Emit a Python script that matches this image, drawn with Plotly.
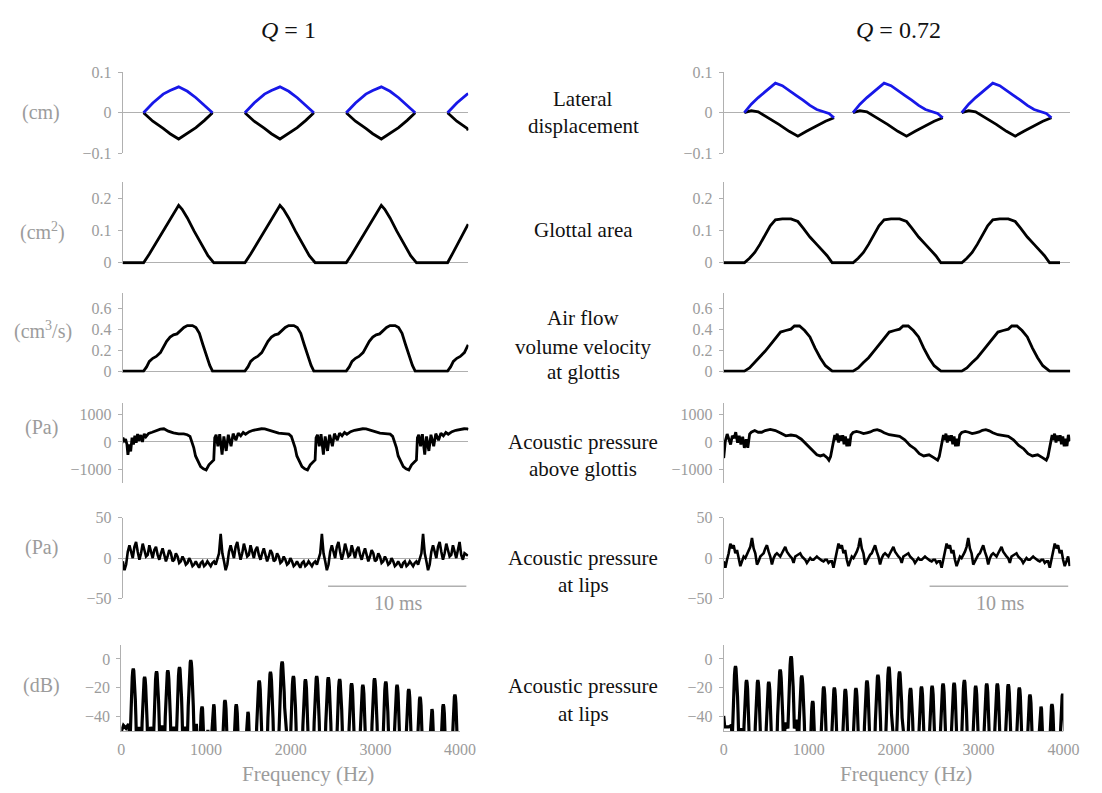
import plotly.graph_objects as go

FONT = "Liberation Serif, Times New Roman, serif"
GREY = "#9c9c9c"
AXIS_GREY = "#b0b0b0"
INK = "#111111"
BLUE = "#1818e8"
W, H = 1102, 793

# ---------------------------------------------------------------- data
# time in ms, two columns: Q = 1 (left) and Q = 0.72 (right)

# lateral displacement of the vocal folds (cm)
lat1_t = [1.50, 2.17, 2.92, 3.42, 4.04, 4.67, 5.29, 5.91, 6.49, None,
          8.83, 9.50, 10.25, 10.75, 11.37, 12.00, 12.62, 13.24, 13.82, None,
          16.16, 16.83, 17.58, 18.08, 18.70, 19.33, 19.95, 20.57, 21.15, None,
          23.49, 24.16, 24.91, 24.98]
lat1_upper = [0, 0.024, 0.046, 0.055, 0.064, 0.053, 0.037, 0.019, 0, None,
              0, 0.024, 0.046, 0.055, 0.064, 0.053, 0.037, 0.019, 0, None,
              0, 0.024, 0.046, 0.055, 0.064, 0.053, 0.037, 0.019, 0, None,
              0, 0.024, 0.046, 0.047]
lat1_lower = [0, -0.021, -0.039, -0.052, -0.065, -0.050, -0.037, -0.019, 0, None,
              0, -0.021, -0.039, -0.052, -0.065, -0.050, -0.037, -0.019, 0, None,
              0, -0.021, -0.039, -0.052, -0.065, -0.050, -0.037, -0.019, 0, None,
              0, -0.021, -0.039, -0.044]

lat2_t_upper = [1.49, 1.99, 2.49, 2.98, 3.73, 4.23, 4.72, 5.22, 5.72, 6.22, 6.71, 7.21, 7.59, 7.96, None,
                9.33, 9.83, 10.33, 10.82, 11.57, 12.07, 12.56, 13.06, 13.56, 14.06, 14.55, 15.05, 15.43, 15.80, None,
                17.17, 17.67, 18.17, 18.66, 19.41, 19.91, 20.40, 20.90, 21.40, 21.90, 22.39, 22.89, 23.27, 23.64]
lat2_upper = [0, 0.021, 0.0375, 0.052, 0.073, 0.067, 0.054, 0.043, 0.031, 0.018, 0.008, 0.002, -0.002, -0.0125, None,
              0, 0.021, 0.0375, 0.052, 0.073, 0.067, 0.054, 0.043, 0.031, 0.018, 0.008, 0.002, -0.002, -0.0125, None,
              0, 0.021, 0.0375, 0.052, 0.073, 0.067, 0.054, 0.043, 0.031, 0.018, 0.008, 0.002, -0.002, -0.0125]
lat2_t_lower = [1.49, 1.99, 2.49, 3.23, 3.98, 4.72, 5.35, 5.97, 6.71, 7.34, 7.96, None,
                9.33, 9.83, 10.33, 11.07, 11.82, 12.56, 13.19, 13.81, 14.55, 15.18, 15.80, None,
                17.17, 17.67, 18.17, 18.91, 19.66, 20.40, 21.03, 21.65, 22.39, 23.02, 23.64]
lat2_lower = [0, 0.005, 0.002, -0.0125, -0.029, -0.046, -0.058, -0.046, -0.032, -0.021, -0.0125, None,
              0, 0.005, 0.002, -0.0125, -0.029, -0.046, -0.058, -0.046, -0.032, -0.021, -0.0125, None,
              0, 0.005, 0.002, -0.0125, -0.029, -0.046, -0.058, -0.046, -0.032, -0.021, -0.0125]

# glottal area (cm^2)
area1_t = [0, 1.50, 1.92, 2.42, 2.92, 3.42, 3.79, 4.04, 4.29, 4.67, 5.16, 5.66, 6.16, 6.59,
           8.83, 9.25, 9.75, 10.25, 10.75, 11.12, 11.37, 11.62, 12.00, 12.49, 12.99, 13.49, 13.92,
           16.16, 16.58, 17.08, 17.58, 18.08, 18.45, 18.70, 18.95, 19.33, 19.82, 20.32, 20.82, 21.25,
           23.49, 23.91, 24.41, 24.98]
area1 = [0, 0, 0.027, 0.063, 0.098, 0.134, 0.162, 0.178, 0.166, 0.139, 0.098, 0.058, 0.022, 0,
         0, 0.027, 0.063, 0.098, 0.134, 0.162, 0.178, 0.166, 0.139, 0.098, 0.058, 0.022, 0,
         0, 0.027, 0.063, 0.098, 0.134, 0.162, 0.178, 0.166, 0.139, 0.098, 0.058, 0.022, 0,
         0, 0.033, 0.075, 0.12]

area2_t = [0, 1.49, 1.86, 2.24, 2.61, 2.98, 3.36, 3.73, 4.23, 4.85, 5.35, 5.72, 6.22, 6.71, 7.09, 7.46, 7.83,
           9.33, 9.70, 10.08, 10.45, 10.82, 11.20, 11.57, 12.07, 12.69, 13.19, 13.56, 14.06, 14.55, 14.93, 15.30, 15.67,
           17.17, 17.54, 17.92, 18.29, 18.66, 19.04, 19.41, 19.91, 20.53, 21.03, 21.40, 21.90, 22.39, 22.77, 23.14, 23.51,
           24.26]
area2 = [0, 0, 0.014, 0.032, 0.057, 0.088, 0.115, 0.133, 0.136, 0.136, 0.128, 0.108, 0.080, 0.057, 0.040, 0.022, 0,
         0, 0.014, 0.032, 0.057, 0.088, 0.115, 0.133, 0.136, 0.136, 0.128, 0.108, 0.080, 0.057, 0.040, 0.022, 0,
         0, 0.014, 0.032, 0.057, 0.088, 0.115, 0.133, 0.136, 0.136, 0.128, 0.108, 0.080, 0.057, 0.040, 0.022, 0,
         0]

# air flow volume velocity at the glottis (cm^3/s)
flow1_t = [0, 1.50, 1.72, 1.92, 2.17, 2.42, 2.72, 2.92, 3.17, 3.42, 3.67, 3.92, 4.17, 4.42, 4.67, 5.04, 5.29, 5.54, 5.79, 6.04, 6.29, 6.49,
           8.83, 9.05, 9.25, 9.50, 9.75, 10.05, 10.25, 10.50, 10.75, 11.00, 11.25, 11.50, 11.75, 12.00, 12.37, 12.62, 12.87, 13.12, 13.37, 13.62, 13.82,
           16.16, 16.38, 16.58, 16.83, 17.08, 17.38, 17.58, 17.83, 18.08, 18.33, 18.58, 18.83, 19.08, 19.33, 19.70, 19.95, 20.20, 20.45, 20.70, 20.95, 21.15,
           23.49, 23.71, 23.91, 24.16, 24.41, 24.71, 24.91, 24.98]
flow1 = [0, 0, 0.04, 0.092, 0.122, 0.14, 0.177, 0.223, 0.284, 0.324, 0.346, 0.355, 0.39, 0.416, 0.434, 0.434, 0.416, 0.361, 0.254, 0.147, 0.055, 0,
         0, 0.04, 0.092, 0.122, 0.14, 0.177, 0.223, 0.284, 0.324, 0.346, 0.355, 0.39, 0.416, 0.434, 0.434, 0.416, 0.361, 0.254, 0.147, 0.055, 0,
         0, 0.04, 0.092, 0.122, 0.14, 0.177, 0.223, 0.284, 0.324, 0.346, 0.355, 0.39, 0.416, 0.434, 0.434, 0.416, 0.361, 0.254, 0.147, 0.055, 0,
         0, 0.04, 0.092, 0.122, 0.14, 0.177, 0.223, 0.25]

flow2_t = [0, 1.49, 1.86, 2.24, 2.61, 2.98, 3.36, 3.73, 4.10, 4.48, 4.85, 5.10, 5.47, 5.84, 6.22, 6.59, 6.96, 7.34, 7.83,
           9.33, 9.70, 10.08, 10.45, 10.82, 11.20, 11.57, 11.94, 12.32, 12.69, 12.94, 13.31, 13.68, 14.06, 14.43, 14.80, 15.18, 15.67,
           17.17, 17.54, 17.92, 18.29, 18.66, 19.04, 19.41, 19.78, 20.16, 20.53, 20.78, 21.15, 21.52, 21.90, 22.27, 22.64, 23.02, 23.51,
           25.0]
flow2 = [0, 0, 0.03, 0.082, 0.128, 0.189, 0.25, 0.311, 0.372, 0.387, 0.40, 0.43, 0.43, 0.387, 0.326, 0.22, 0.128, 0.052, 0,
         0, 0.03, 0.082, 0.128, 0.189, 0.25, 0.311, 0.372, 0.387, 0.40, 0.43, 0.43, 0.387, 0.326, 0.22, 0.128, 0.052, 0,
         0, 0.03, 0.082, 0.128, 0.189, 0.25, 0.311, 0.372, 0.387, 0.40, 0.43, 0.43, 0.387, 0.326, 0.22, 0.128, 0.052, 0,
         0]

# acoustic pressure above the glottis (Pa), Q = 1: opening stretch, then three periods
supra1_t_open = [0, 0.10, 0.20, 0.30, 0.37, 0.47, 0.57, 0.67, 0.77, 0.87, 0.97, 1.07, 1.17, 1.30, 1.42, 1.55, 1.67,
                 1.87, 2.12, 2.42, 2.72, 2.97, 3.29, 3.66, 4.04, 4.41, 4.66, 4.86, 5.01, 5.13, 5.26, 5.43, 5.63, 5.83]
supra1_open = [160, 40, 100, -90, -460, -90, -340, 160, -90, 225, -25, 290, 40, 250, 0, 290, 190,
               310, 350, 410, 460, 475, 390, 325, 290, 290, 260, 200, 0, -200, -500, -700, -880, -960]
supra1_t_c1 = [6.03, 6.23, 6.43, 6.58, 6.65, 6.75, 6.88, 7.01, 7.18, 7.31, 7.48, 7.63, 7.83, 7.98, 8.18, 8.35,
               8.53, 8.71, 8.88, 9.15, 9.43, 9.73, 10.03, 10.27, 10.52, 10.89, 11.27, 11.64, 12.01, 12.19, 12.34,
               12.46, 12.59, 12.76, 12.96, 13.16]
supra1_c1 = [-1000, -820, -700, -640, 150, 260, -150, 280, -450, 200, -320, 260, -150, 300, 60, 320,
             220, 340, 280, 370, 420, 455, 475, 470, 430, 370, 320, 300, 280, 200, 0,
             -200, -500, -700, -880, -960]
supra1_t_c2 = [13.36, 13.56, 13.76, 13.91, 13.98, 14.08, 14.21, 14.34, 14.51, 14.64, 14.81, 14.96, 15.16, 15.31,
               15.51, 15.68, 15.86, 16.04, 16.21, 16.48, 16.76, 17.06, 17.36, 17.60, 17.85, 18.22, 18.60, 18.97,
               19.34, 19.52, 19.67, 19.79, 19.92, 20.09, 20.29, 20.49]
supra1_c2 = [-1000, -820, -700, -640, 150, 260, -150, 280, -450, 200, -320, 260, -150, 300,
             60, 320, 220, 340, 280, 370, 420, 455, 475, 470, 430, 370, 320, 300,
             280, 200, 0, -200, -500, -700, -880, -960]
supra1_t_c3 = [20.69, 20.89, 21.09, 21.24, 21.31, 21.41, 21.54, 21.67, 21.84, 21.97, 22.14, 22.29, 22.49, 22.64,
               22.84, 23.01, 23.19, 23.37, 23.54, 23.81, 24.09, 24.39, 24.69, 24.93, 25.0]
supra1_c3 = [-1000, -820, -700, -640, 150, 260, -150, 280, -450, 200, -320, 260, -150, 300,
             60, 320, 220, 340, 280, 370, 420, 455, 475, 470, 450]

# acoustic pressure above the glottis (Pa), Q = 0.72
supra2_t_open = [0, 0.12, 0.25, 0.37, 0.50, 0.62, 0.75, 0.87, 1.00, 1.12, 1.24, 1.37, 1.49, 1.62, 1.74, 1.87, 1.99,
                 2.24, 2.49, 2.74, 2.99, 3.36, 3.73, 4.10, 4.48, 4.85, 5.22, 5.60, 5.97, 6.34, 6.72, 6.97, 7.21, 7.46]
supra2_open = [-580, 40, 285, 100, -90, 220, 140, 350, -25, 220, -90, 190, -210, 100, -210, 285, 350,
               410, 350, 350, 410, 450, 410, 320, 220, 250, 220, 100, -90, -270, -460, -500, -460, -560]
supra2_t_c1 = [7.59, 7.71, 7.84, 7.91, 8.01, 8.09, 8.19, 8.29, 8.39, 8.49, 8.59, 8.68, 8.78, 8.88, 8.98, 9.08, 9.18,
               9.33, 9.58, 9.83, 10.08, 10.33, 10.58, 10.82, 11.07, 11.32, 11.57, 11.94, 12.32, 12.69, 13.06, 13.44,
               13.81, 14.11, 14.43, 14.81, 15.18]
supra2_c1 = [-650, -520, -200, 100, 250, 60, 300, -20, 230, 50, 240, -80, 200, -150, 120, -150, 250,
             340, 380, 350, 300, 330, 360, 420, 440, 400, 330, 260, 240, 200, 80, -120,
             -250, -420, -500, -460, -570]
supra2_t_c2 = [15.43, 15.55, 15.68, 15.75, 15.85, 15.93, 16.03, 16.13, 16.23, 16.33, 16.43, 16.52, 16.62, 16.72,
               16.82, 16.92, 17.02, 17.17, 17.42, 17.67, 17.92, 18.17, 18.42, 18.66, 18.91, 19.16, 19.41, 19.78,
               20.16, 20.53, 20.90, 21.28, 21.65, 21.95, 22.27, 22.65, 23.02]
supra2_c2 = [-650, -520, -200, 100, 250, 60, 300, -20, 230, 50, 240, -80, 200, -150,
             120, -150, 250, 340, 380, 350, 300, 330, 360, 420, 440, 400, 330, 260,
             240, 200, 80, -120, -250, -420, -500, -460, -570]
supra2_t_c3 = [23.27, 23.39, 23.52, 23.59, 23.69, 23.77, 23.87, 23.97, 24.07, 24.17, 24.27, 24.36, 24.46, 24.56,
               24.66, 24.76, 24.86, 25.0]
supra2_c3 = [-650, -520, -200, 100, 250, 60, 300, -20, 230, 50, 240, -80, 200, -150,
             120, -150, 250, 30]

# acoustic pressure at the lips (Pa), sampled every 0.12 ms from t = 0
LIPS_DT = 0.12
lips1 = [-4, -15, -8, 8, 16, 6, 0, 14, 20, 8, -2, 6, 18, 10, 2, 4, 16, 8, 0, 10, 14, 4, -2, 6, 12, 4, -4, 2, 10,
         6, -4, -2, 6, 2, -6, -4, 2, -2, -8, -6, 0, -4, -10, -8, -4, -8, -12, -6, -4, -10, -8, -4, -8, -10, -6,
         -4, -8, -2, 6,
         30, 6, -4, -15, -8, 8, 16, 6, 0, 14, 20, 8, -2, 6, 18, 10, 2, 4, 16, 8, 0, 10, 14, 4, -2, 6, 12, 4, -4, 2,
         10, 6, -4, -2, 6, 2, -6, -4, 2, -2, -8, -6, 0, -4, -10, -8, -4, -8, -12, -6, -4, -10, -8, -4, -8, -10,
         -6, -4, -8, -2, 6,
         30, 6, -4, -15, -8, 8, 16, 6, 0, 14, 20, 8, -2, 6, 18, 10, 2, 4, 16, 8, 0, 10, 14, 4, -2, 6, 12, 4, -4, 2,
         10, 6, -4, -2, 6, 2, -6, -4, 2, -2, -8, -6, 0, -4, -10, -8, -4, -8, -12, -6, -4, -10, -8, -4, -8, -10,
         -6, -4, -8, -2, 6,
         30, 6, -4, -15, -8, 8, 16, 6, 0, 14, 20, 8, -2, 6, 18, 10, 2, 4, 16, 8, 0, 10, 20, 4, -2, 6, 4, 3]
lips2 = [-4, -12, -2, 6, 18, 12, 16, 6, 10, -2, -10, -4, 2, 0, 4, 8, 14, 25, 12, 6, -8, -4, 2, 4, 6, 12, 16, 8,
         2, -8, 0, 4, 6, 4, 2, 6, 10, 14, 8, 4, 2, 0, -6, 2, 3, 5, 6, 2, 0, -2, -6, -2, 0, -2, -2, 0, 2, 0, -2, -3,
         -4, -2, -2, -6, -4,
         -4, -12, -2, 6, 18, 12, 16, 6, 10, -2, -10, -4, 2, 0, 4, 8, 14, 25, 12, 6, -8, -4, 2, 4, 6, 12, 16, 8,
         2, -8, 0, 4, 6, 4, 2, 6, 10, 14, 8, 4, 2, 0, -6, 2, 3, 5, 6, 2, 0, -2, -6, -2, 0, -2, -2, 0, 2, 0, -2, -3,
         -4, -2, -2, -6, -4,
         -4, -12, -2, 6, 18, 12, 16, 6, 10, -2, -10, -4, 2, 0, 4, 8, 14, 25, 12, 6, -8, -4, 2, 4, 6, 12, 16, 8,
         2, -8, 0, 4, 6, 4, 2, 6, 10, 14, 8, 4, 2, 0, -6, 2, 3, 5, 6, 2, 0, -2, -6, -2, 0, -2, -2, 0, 2, 0, -2, -3,
         -4, -2, -2, -6, -4,
         -4, -12, -2, 6, 18, 12, 16, 6, 10, -2, -10, -4, 2, -10]

# spectrum of the lip pressure: harmonic frequencies (Hz) and peak levels (dB)
spec1_freq = [141, 275, 416, 549, 687, 820, 953, 1091, 1224, 1357, 1495, 1628, 1761, 1899, 2032, 2174, 2307,
              2444, 2578, 2719, 2852, 2990, 3123, 3256, 3394, 3527, 3668, 3802, 3939]
spec1_db = [-6.7, -12.4, -8.5, -7.9, -5.6, -0.7, -33, -31.5, -28.5, -31.5, -36.6, -15, -9, -1.8, -11.9, -14.2,
            -11.9, -12.8, -13.9, -16.9, -18, -13.5, -15.7, -18, -20.9, -26.3, -34.8, -31.5, -24.7]
spec1_valley_db = [-47, -47, -46, -47, -47, -45, -49] + [-62] * 21
spec1_lead_hz = [0, 25, 55, 85]
spec1_lead_db = [-50, -46, -48, -45]

spec2_freq = [139, 269, 402, 531, 665, 794, 919, 1048, 1178, 1303, 1432, 1557, 1687, 1816, 1945, 2071, 2200,
              2329, 2454, 2583, 2713, 2834, 2967, 3097, 3222, 3351, 3481, 3606, 3736, 3865, 3991]
spec2_db = [-5, -14.7, -14.7, -15.8, -7.3, 1.8, -11.6, -29.2, -19.1, -19.8, -20.9, -20.2, -14.9, -11, -5.5, -8.8,
            -20.2, -19.1, -18.7, -17.1, -16.5, -14.7, -18.7, -17.1, -17.1, -17.6, -19.8, -24.6, -33, -31.2, -24.2]
spec2_valley_db = [-48, -62, -62, -62, -44, -42] + [-62] * 24
spec2_lead_hz = [0, 12, 60, 90]
spec2_lead_db = [-39.5, -47, -47, -46]

# shape of one harmonic lobe relative to its peak
lobe_offset_hz = [-38, -30, -24, -18, -12, -6, 0, 6, 12, 18, 24, 30, 38]
lobe_drop_db = [-50, -32, -21, -13, -6, -1.5, 0, -1.5, -6, -13, -21, -32, -50]

# scale bar
scale_bar_ms = 10
scale_bar_end = [24.85, 24.85]
scale_bar_level = -35

# ---------------------------------------------------------------- layout
col_time_px = [(121, 473), (733, 1086)]
col_freq_px = [(119.5, 464.5), (733, 1079)]
row_px = [(65.7, 148.3), (178, 262), (291.7, 372.7), (404, 485), (521, 603.3), (650.5, 739)]
row_range = [[-0.1, 0.1], [-0.005, 0.25], [-0.015, 0.74], [-1456, 1386], [-50, 50], [-50, 10]]
row_ticks = [[-0.1, 0, 0.1], [0, 0.1, 0.2], [0, 0.2, 0.4, 0.6], [-1000, 0, 1000], [-50, 0, 50], [-40, -20, 0]]
freq_ticks = [0, 1000, 2000, 3000, 4000]


def xdom(a, b):
    return [a / W, b / W]


def ydom(top, bottom):
    return [1 - bottom / H, 1 - top / H]


def spectrum_path(freqs, levels, valleys, lead_hz, lead_db):
    xs, ys = list(lead_hz), list(lead_db)
    for i, (f, lev) in enumerate(zip(freqs, levels)):
        for o, d in zip(lobe_offset_hz, lobe_drop_db):
            xs.append(f + o)
            ys.append(lev + d)
        if i < len(freqs) - 1:
            xs.append((f + freqs[i + 1]) / 2)
            ys.append(valleys[i])
    return xs, ys


fig = go.Figure()
layout = dict(
    width=W, height=H, margin=dict(l=0, r=0, t=0, b=0),
    paper_bgcolor="white", plot_bgcolor="white", showlegend=False,
    font=dict(family=FONT, color=GREY),
)

for r in range(6):
    for c in range(2):
        n = r * 2 + c + 1
        xname = "xaxis" if n == 1 else f"xaxis{n}"
        yname = "yaxis" if n == 1 else f"yaxis{n}"
        if r < 5:
            layout[xname] = dict(domain=xdom(*col_time_px[c]), range=[0, 25], visible=False,
                                 anchor=f"y{n}", fixedrange=True)
        else:
            layout[xname] = dict(domain=xdom(*col_freq_px[c]), range=[0, 4000], anchor=f"y{n}",
                                 showline=True, linecolor=AXIS_GREY, linewidth=1, ticks="",
                                 tickvals=freq_ticks, showgrid=False, zeroline=False,
                                 tickfont=dict(family=FONT, size=16, color=GREY),
                                 ticklabelstandoff=4, fixedrange=True)
        layout[yname] = dict(domain=ydom(*row_px[r]), range=row_range[r], anchor=f"x{n}",
                             showline=True, linecolor=AXIS_GREY, linewidth=1,
                             ticks="outside", ticklen=4, tickcolor=AXIS_GREY, tickwidth=1,
                             tickvals=row_ticks[r], showgrid=False,
                             zeroline=(r < 5), zerolinecolor=AXIS_GREY, zerolinewidth=1,
                             tickfont=dict(family=FONT, size=16, color=GREY),
                             ticklabelstandoff=3, fixedrange=True)


def line(x, y, n, color="black", width=2.8):
    fig.add_trace(go.Scatter(x=x, y=y, mode="lines", xaxis=f"x{n}", yaxis=f"y{n}",
                             line=dict(color=color, width=width), hoverinfo="skip"))


# lateral displacement
line(lat1_t, lat1_lower, 1)
line(lat1_t, lat1_upper, 1, BLUE)
line(lat2_t_lower, lat2_lower, 2)
line(lat2_t_upper, lat2_upper, 2, BLUE)
# glottal area
line(area1_t, area1, 3)
line(area2_t, area2, 4)
# air flow
line(flow1_t, flow1, 5)
line(flow2_t, flow2, 6)
# supraglottal pressure
line(supra1_t_open + supra1_t_c1 + supra1_t_c2 + supra1_t_c3,
     supra1_open + supra1_c1 + supra1_c2 + supra1_c3, 7)
line(supra2_t_open + supra2_t_c1 + supra2_t_c2 + supra2_t_c3,
     supra2_open + supra2_c1 + supra2_c2 + supra2_c3, 8)
# lip pressure
for n, series in ((9, lips1), (10, lips2)):
    fig.add_trace(go.Scatter(y=series, x0=0, dx=LIPS_DT, mode="lines", xaxis=f"x{n}", yaxis=f"y{n}",
                             line=dict(color="black", width=2.6), hoverinfo="skip"))
# spectra
sx, sy = spectrum_path(spec1_freq, spec1_db, spec1_valley_db, spec1_lead_hz, spec1_lead_db)
line(sx, sy, 11, width=3.2)
sx, sy = spectrum_path(spec2_freq, spec2_db, spec2_valley_db, spec2_lead_hz, spec2_lead_db)
line(sx, sy, 12, width=3.2)

# 10 ms scale bars
shapes = []
for n, end in zip((9, 10), scale_bar_end):
    shapes.append(dict(type="line", xref=f"x{n}", yref=f"y{n}", x0=end - scale_bar_ms, x1=end,
                       y0=scale_bar_level, y1=scale_bar_level, line=dict(color=AXIS_GREY, width=1.5)))
layout["shapes"] = shapes


def ann(text, x, y, size, color, xanchor="center"):
    return dict(text=text, x=x / W, y=1 - y / H, xref="paper", yref="paper", showarrow=False,
                xanchor=xanchor, yanchor="middle", font=dict(family=FONT, size=size, color=color))


annotations = [
    ann("<i>Q</i> = 1", 290, 22, 24, INK),
    ann("<i>Q</i> = 0.72", 911, 22, 24, INK),
    ann("(cm)", 38, 107, 20, GREY),
    ann("(cm<sup>2</sup>)", 39, 228, 20, GREY),
    ann("(cm<sup>3</sup>/s)", 40, 330, 20, GREY),
    ann("(Pa)", 38, 429, 20, GREY),
    ann("(Pa)", 38, 551, 20, GREY),
    ann("(dB)", 38, 692, 20, GREY),
    ann("Lateral", 590, 93, 21, INK),
    ann("displacement", 590, 121, 21, INK),
    ann("Glottal area", 590, 227, 21, INK),
    ann("Air flow", 590, 317, 21, INK),
    ann("volume velocity", 590, 346, 21, INK),
    ann("at glottis", 590, 372, 21, INK),
    ann("Acoustic pressure", 590, 443, 21, INK),
    ann("above glottis", 590, 471, 21, INK),
    ann("Acoustic pressure", 590, 562, 21, INK),
    ann("at lips", 590, 590, 21, INK),
    ann("Acoustic pressure", 590, 693, 21, INK),
    ann("at lips", 590, 721, 21, INK),
    ann("10 ms", 402, 608, 20, GREY),
    ann("10 ms", 1015, 608, 20, GREY),
    ann("Frequency (Hz)", 310, 783, 21, GREY),
    ann("Frequency (Hz)", 919, 783, 21, GREY),
]
layout["annotations"] = annotations

fig.update_layout(**layout)
fig.write_html("out.html")
